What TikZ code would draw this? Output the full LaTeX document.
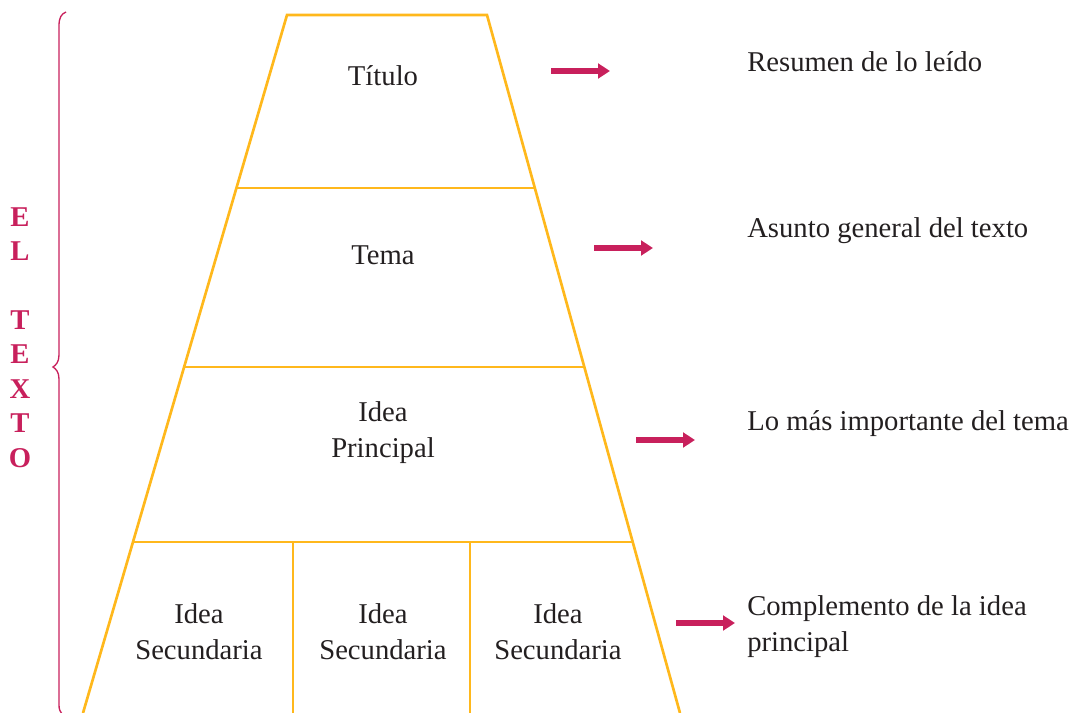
\documentclass[tikz,border=0pt]{standalone}
\usepackage{fontspec}
\setmainfont{Liberation Serif}
\usetikzlibrary{arrows.meta,calc}
\definecolor{gold}{RGB}{255,184,28}
\definecolor{mag}{RGB}{200,32,92}
\definecolor{ink}{RGB}{35,31,32}
\begin{document}
\begin{tikzpicture}[x=0.75pt,y=-0.75pt,
  edge/.style={draw=gold,line width=2pt},
  arr/.style={draw=mag,line width=4.5pt,-{Triangle[length=9pt,width=11pt]}},
  brace/.style={draw=mag,line width=1pt},
  lbl/.style={text=ink,font=\fontsize{21.5}{27}\selectfont,inner sep=0pt},
  side/.style={text=mag,font=\bfseries\fontsize{21.5}{25.8}\selectfont,inner sep=0pt,align=center}]
\useasboundingbox (0,0) rectangle (1076,713);
% trapezoid
\coordinate (TL) at (287,15);
\coordinate (TR) at (487,15);
\coordinate (BL) at (83,713);
\coordinate (BR) at (680,713);
\coordinate (L1) at ($(TL)!0.2479!(BL)$);
\coordinate (R1) at ($(TR)!0.2479!(BR)$);
\coordinate (L2) at ($(TL)!0.5043!(BL)$);
\coordinate (R2) at ($(TR)!0.5043!(BR)$);
\coordinate (L3) at ($(TL)!0.7550!(BL)$);
\coordinate (R3) at ($(TR)!0.7550!(BR)$);
\coordinate (V1t) at (293,542);
\coordinate (V1b) at (293,713);
\coordinate (V2t) at (470,542);
\coordinate (V2b) at (470,713);
\draw[edge,line join=miter] (BL) -- (TL) -- (TR) -- (BR);
\draw[edge] (L1) -- (R1);
\draw[edge] (L2) -- (R2);
\draw[edge] (L3) -- (R3);
\draw[edge] (V1t) -- (V1b);
\draw[edge] (V2t) -- (V2b);
% inner labels
\node[lbl,anchor=base] (titulo) at (383,86) {Título};
\node[lbl,anchor=base] (tema) at (383,265) {Tema};
\node[lbl,align=center] (idea) at (383,432.4) {Idea\\Principal};
\node[lbl,align=center] (sec1) at (199,631.3) {Idea\\Secundaria};
\node[lbl,align=center] (sec2) at (383,631.3) {Idea\\Secundaria};
\node[lbl,align=center] (sec3) at (558,631.3) {Idea\\Secundaria};
% right labels
\node[lbl,anchor=base west] (r1) at (747,72) {Resumen de lo leído};
\node[lbl,anchor=base west] (r2) at (747,238) {Asunto general del texto};
\node[lbl,anchor=base west] (r3) at (747,431) {Lo más importante del tema};
\node[lbl,align=left,anchor=west] (r4) at (747,626.3) {Complemento de la idea\\principal};
% arrows
\coordinate (a1s) at (551,71);  \coordinate (a1e) at (610,71);
\coordinate (a2s) at (594,248); \coordinate (a2e) at (653,248);
\coordinate (a3s) at (636,440); \coordinate (a3e) at (695,440);
\coordinate (a4s) at (676,623); \coordinate (a4e) at (735,623);
\draw[arr] (a1s) -- (a1e);
\draw[arr] (a2s) -- (a2e);
\draw[arr] (a3s) -- (a3e);
\draw[arr] (a4s) -- (a4e);
% brace
\draw[brace] (66,12) .. controls (61,14) and (59,18) .. (59,26) -- (59,355)
  .. controls (59,362) and (56,365) .. (53,367)
  .. controls (56,369) and (59,372) .. (59,379) -- (59,705)
  .. controls (59,709) and (60,712) .. (62,714);
\node[side] (eltexto) at (20,337.5) {E\\L\\\mbox{}\\T\\E\\X\\T\\O};
\end{tikzpicture}
\end{document}
